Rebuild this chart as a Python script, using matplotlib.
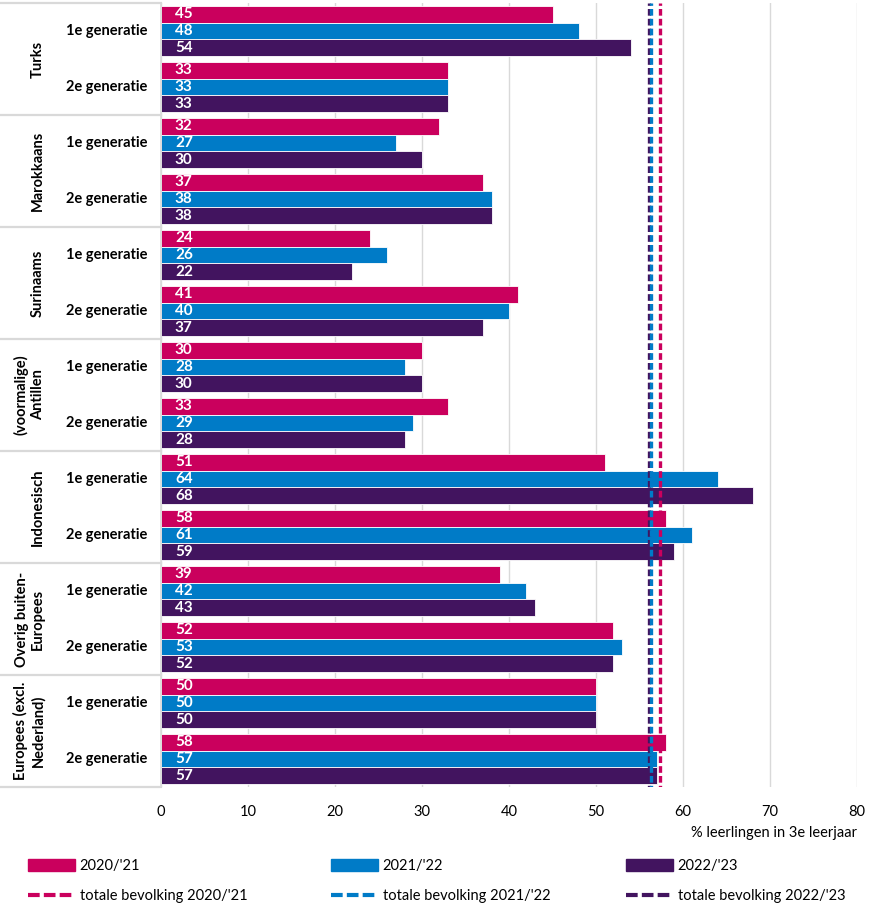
import matplotlib.pyplot as plt
import numpy as np
from matplotlib.lines import Line2D
from matplotlib.patches import Patch

plt.rcParams['font.family'] = ['Lato', 'DejaVu Sans']

# groepen en generaties
groepen = ['Turks', 'Marokkaans', 'Surinaams', '(voormalige)\nAntillen',
           'Indonesisch', 'Overig buiten-\nEuropees', 'Europees (excl.\nNederland)']
generaties = ['1e generatie', '2e generatie']
jaren = ["2020/'21", "2021/'22", "2022/'23"]

# waarden per (groep, generatie), in volgorde van boven naar beneden
w_2020 = [45, 33, 32, 37, 24, 41, 30, 33, 51, 58, 39, 52, 50, 58]
w_2021 = [48, 33, 27, 38, 26, 40, 28, 29, 64, 61, 42, 53, 50, 57]
w_2022 = [54, 33, 30, 38, 22, 37, 30, 28, 68, 59, 43, 52, 50, 57]

# totale bevolking
totaal = [57.4, 56.3, 56.1]

kleuren = ['#CA005D', '#007BC7', '#42145F']

fig = plt.figure(figsize=(8.92, 9.11), dpi=100)
ax = fig.add_axes([161/892, 1 - 787/911, 696/892, 784/911])

n = len(w_2020)
y = np.arange(n)
h = 0.295
reeksen = [w_2020, w_2021, w_2022]
for k, (vals, kleur) in enumerate(zip(reeksen, kleuren)):
    pos = y + (k - 1) * h
    ax.barh(pos, vals, height=h, color=kleur, edgecolor='white', linewidth=0.6, zorder=2)
    for p, v in zip(pos, vals):
        ax.text(1.6, p, str(v), color='white', fontsize=11, fontweight='bold',
                va='center', ha='left', zorder=3)

# totale bevolking lijnen
for k in [2, 1, 0]:
    ax.axvline(totaal[k], color=kleuren[k], linestyle=(0, (2.0, 0.95)), linewidth=2.4,
               zorder=4, ymin=-0.006, ymax=1)

ax.set_ylim(n - 0.5, -0.5)
ax.set_xlim(0, 80)
ax.set_xticks(range(0, 81, 10))
ax.tick_params(axis='x', length=0, labelsize=10.5, pad=13)
ax.set_yticks([])
ax.grid(axis='x', color='#D9D9D9', linewidth=1, zorder=0)
for s in ['top', 'right', 'bottom']:
    ax.spines[s].set_visible(False)
ax.spines['left'].set_color('#D9D9D9')
ax.spines['left'].set_linewidth(1.2)
ax.set_xlabel('% leerlingen in 3e leerjaar', fontsize=10.5, ha='right', x=1.0, labelpad=5)

# linker tabel: scheidingslijnen, groeps- en generatielabels
tr = ax.get_yaxis_transform()
x0 = -161/696
for g in range(len(groepen) + 1):
    ax.plot([x0, 0], [2*g - 0.5, 2*g - 0.5], transform=tr, color='#D9D9D9',
            linewidth=1.6, clip_on=False)
for g, naam in enumerate(groepen):
    ax.text(-116/696, 2*g + 0.5, naam, transform=tr, rotation=90, ha='right', va='center',
            fontsize=10.5, fontweight='bold', multialignment='center')
for i in range(n):
    ax.text(-14/696, i, generaties[i % 2], transform=tr, ha='right', va='center',
            fontsize=10.5, fontweight='bold')

# legenda: per jaar een kolom
kol_x = [28, 331, 626]
for k, kleur in enumerate(kleuren):
    hnd = [Patch(color=kleur),
           Line2D([0], [0], color=kleur, linestyle=(0, (2.8, 1.0)), linewidth=3)]
    lab = [jaren[k], 'totale bevolking ' + jaren[k]]
    fig.legend(hnd, lab, loc='upper left', bbox_to_anchor=(kol_x[k]/892, 1 - 859/911),
               frameon=False, fontsize=10.5, handlelength=3.2, handleheight=0.8,
               handletextpad=0.35, labelspacing=1.1, borderaxespad=0, borderpad=0)

fig.savefig('out.png', dpi=100)
